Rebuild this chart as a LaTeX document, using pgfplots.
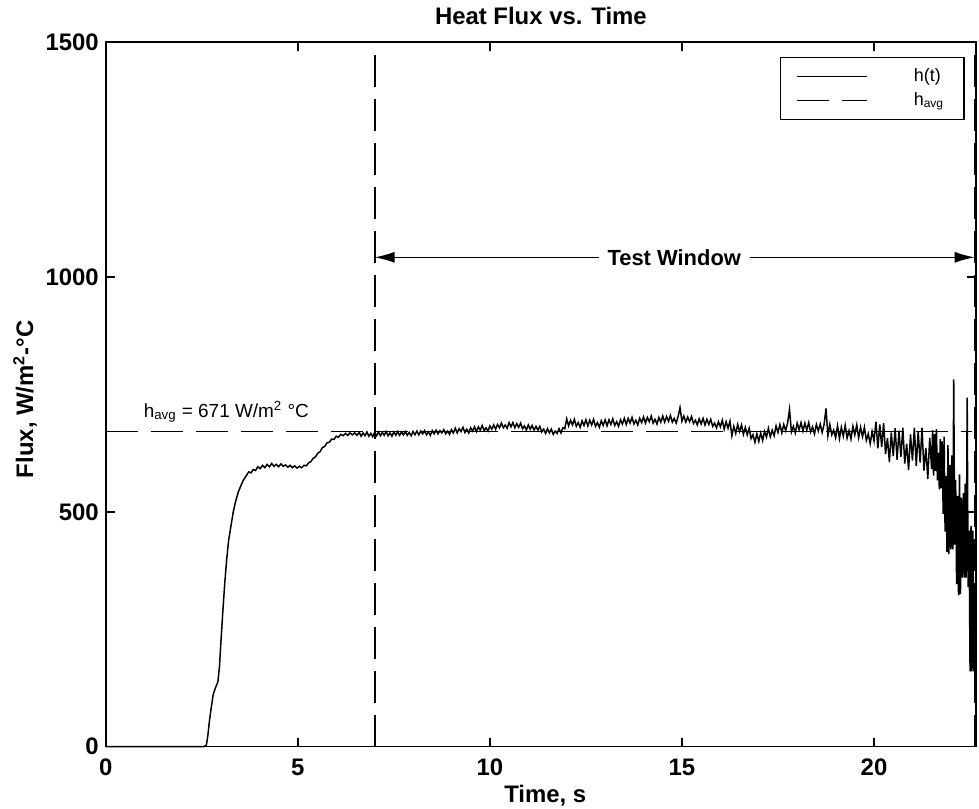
\documentclass[border=0pt]{standalone}
\usepackage{fontspec}
\setmainfont{Liberation Sans}
\usepackage{pgfplots}
\pgfplotsset{compat=1.18}
\usetikzlibrary{arrows.meta}

\newcommand{\twelvebf}{\fontsize{12}{14}\selectfont\bfseries}

\begin{document}
\begin{tikzpicture}
\begin{axis}[
    scale only axis,
    width=435.15bp, height=352.2bp,
    xmin=0, xmax=22.655,
    ymin=0, ymax=1500,
    xtick={0,5,10,15,20},
    ytick={0,500,1000,1500},
    tick align=inside,
    major tick length=4.5bp,
    tick style={line width=0.8bp, black},
    axis line style={line width=0.8bp},
    /pgf/number format/assume math mode=true,
    /pgf/number format/1000 sep={},
    tick label style={font=\twelvebf},
    xticklabel style={anchor=base, yshift=-14.2bp},
    title={Heat Flux vs. Time},
    every axis title shift=0pt,
    title style={font=\twelvebf, at={(axis description cs:0.5,1)}, anchor=base, yshift=8.9bp},
    xlabel={Time, s},
    xlabel style={font=\twelvebf, at={(axis description cs:0.505,0)}, anchor=base, yshift=-28bp},
    ylabel={Flux, W/m\textsuperscript{2}-°C},
    ylabel style={font=\twelvebf, at={(axis description cs:-0.0835,0.493)}, anchor=base},
    clip=false,
    legend cell align=left,
    legend style={at={(0.987,0.979)}, anchor=north east, draw=black, line width=0.6bp,
        fill=white, font=\fontsize{9}{11}\selectfont,
        inner xsep=8bp, inner ysep=3.5bp, row sep=0bp, column sep=21bp},
    legend image code/.code={\draw[#1] (0bp,0bp) -- (35bp,0bp);},
]

% h(t) measured curve
\addplot[black, line width=0.75bp] coordinates {
    (0,0) (2.55,0) (2.62,3) (2.66,25) (2.70,55) (2.75,85) (2.80,112) (2.86,126)
    (2.92,138) (2.96,170) (3.00,225) (3.05,290) (3.10,350) (3.15,400) (3.20,440)
    (3.26,470) (3.32,500) (3.38,522) (3.45,542) (3.52,556) (3.58,567) (3.66,577)
    (3.72,585) (3.78,583) (3.84,590) (3.90,588) (3.96,596) (4.02,592) (4.08,599)
    (4.14,594) (4.20,601) (4.26,596) (4.32,603) (4.38,597) (4.44,601) (4.50,596)
    (4.56,602) (4.62,597) (4.68,600) (4.74,595) (4.80,599) (4.86,594) (4.92,598)
    (4.98,593) (5.04,597) (5.10,594) (5.16,599) (5.22,598) (5.28,604) (5.34,607)
    (5.40,614) (5.46,617) (5.52,625) (5.58,628) (5.64,637) (5.70,639) (5.76,647)
    (5.82,648) (5.88,655) (5.94,654) (6.00,661) (6.06,659) (6.12,665) (6.18,662)
    (6.24,667) (6.30,663) (6.36,668) (6.42,664) (6.48,668) (6.54,663)
    (6.60,669) (6.65,661) (6.70,668) (6.75,662) (6.80,670) (6.85,661) (6.90,667) (6.95,660)
    (7.00,669) (7.05,662) (7.10,670) (7.15,662) (7.20,669) (7.25,663) (7.30,671) (7.35,662)
    (7.40,668) (7.45,661) (7.50,670) (7.55,663) (7.60,671) (7.65,663) (7.70,670) (7.75,664)
    (7.80,671) (7.85,663) (7.90,669) (7.95,662) (8.00,671) (8.05,664) (8.10,672) (8.15,664)
    (8.20,672) (8.25,666) (8.30,673) (8.35,664) (8.40,670) (8.45,663) (8.50,673) (8.55,666)
    (8.60,674) (8.65,666) (8.70,673) (8.75,668) (8.80,675) (8.85,666) (8.90,672) (8.95,665)
    (9.00,675) (9.05,668) (9.10,678) (9.15,668) (9.20,677) (9.25,671) (9.30,680) (9.35,669)
    (9.40,676) (9.45,668) (9.50,679) (9.55,672) (9.60,681) (9.65,671) (9.70,681) (9.75,674)
    (9.80,684) (9.85,673) (9.90,679) (9.95,672) (10.00,683) (10.05,676) (10.10,685) (10.15,676)
    (10.20,686) (10.25,679) (10.30,689) (10.35,679) (10.40,685) (10.45,678) (10.50,690) (10.55,681)
    (10.60,690) (10.65,679) (10.70,688) (10.75,680) (10.80,689) (10.85,677) (10.90,683) (10.95,674)
    (11.00,685) (11.05,676) (11.10,684) (11.15,674) (11.20,682) (11.25,674) (11.30,682) (11.35,670)
    (11.40,676) (11.45,667) (11.50,677) (11.55,668) (11.60,676) (11.65,665) (11.70,672) (11.75,667)
    (11.80,677) (11.85,668) (11.90,679) (11.95,677) (12.00,698) (12.05,683) (12.10,695) (12.15,685)
    (12.20,697) (12.25,682) (12.30,690) (12.35,680) (12.40,694) (12.45,684) (12.50,696) (12.55,683)
    (12.60,695) (12.65,685) (12.70,697) (12.75,682) (12.80,690) (12.85,680) (12.90,694) (12.95,684)
    (13.00,696) (13.05,683) (13.10,696) (13.15,686) (13.20,698) (13.25,684) (13.30,692) (13.35,682)
    (13.40,696) (13.45,687) (13.50,699) (13.55,686) (13.60,699) (13.65,689) (13.70,701) (13.75,687)
    (13.80,695) (13.85,685) (13.90,699) (13.95,690) (14.00,702) (14.05,689) (14.10,701) (14.15,692)
    (14.20,704) (14.25,689) (14.30,697) (14.35,687) (14.40,701) (14.45,691) (14.50,704) (14.55,691)
    (14.60,703) (14.65,693) (14.70,705) (14.75,691) (14.80,699) (14.85,689) (14.90,703) (14.95,722)
    (15.00,693) (15.05,704) (15.10,691) (15.15,702) (15.20,692) (15.25,703) (15.30,688) (15.35,695)
    (15.40,685) (15.45,698) (15.50,687) (15.55,699) (15.60,685) (15.65,697) (15.70,686) (15.75,697)
    (15.80,682) (15.85,689) (15.90,679) (15.95,692) (16.00,681) (16.05,695) (16.10,676) (16.15,692)
    (16.20,678) (16.25,693) (16.30,662) (16.35,682) (16.40,667) (16.45,686) (16.50,671) (16.55,685)
    (16.60,665) (16.65,680) (16.70,664) (16.75,678) (16.80,656) (16.85,664) (16.90,648) (16.95,666)
    (17.00,650) (17.05,668) (17.10,652) (17.15,671) (17.20,659) (17.25,678) (17.30,660) (17.35,674)
    (17.40,662) (17.45,683) (17.50,669) (17.55,686) (17.60,668) (17.65,686) (17.70,673) (17.75,689)
    (17.80,718) (17.85,670) (17.90,682) (17.95,668) (18.00,689) (18.05,675) (18.10,690) (18.15,672)
    (18.20,689) (18.25,674) (18.30,690) (18.35,670) (18.40,681) (18.45,666) (18.50,686) (18.55,672)
    (18.60,687) (18.65,669) (18.70,686) (18.75,720) (18.80,662) (18.85,686) (18.90,664) (18.95,674)
    (19.00,658) (19.05,683) (19.10,656) (19.15,680) (19.20,661) (19.25,684) (19.30,657) (19.35,673)
    (19.40,655) (19.45,682) (19.50,664) (19.55,685) (19.60,658) (19.65,680) (19.70,660) (19.75,680)
    (19.80,652) (19.85,666) (19.90,645) (19.95,671) (20.00,651)
    (20.05,692) (20.10,635) (20.15,686) (20.20,638) (20.25,689) (20.30,623) (20.35,657) (20.40,606)
    (20.45,669) (20.50,619) (20.55,678) (20.60,611) (20.65,673) (20.70,617) (20.75,679) (20.80,603)
    (20.85,645) (20.90,589) (20.95,665) (21.00,609) (21.05,679) (21.10,598) (21.15,672) (21.20,605)
    (21.25,679) (21.30,588) (21.35,636) (21.40,570) (21.45,658) (21.50,591)
    (21.525,674) (21.550,577) (21.575,666) (21.600,587) (21.625,676) (21.650,567) (21.675,626)
    (21.700,548) (21.725,655) (21.750,550) (21.775,650) (21.800,495) (21.825,660) (21.850,458)
    (21.875,576) (21.900,414) (21.925,642) (21.950,410) (21.975,600) (22.000,420) (22.025,620)
    (22.050,420) (22.075,782) (22.100,430) (22.125,568) (22.150,346) (22.175,534) (22.200,322)
    (22.225,580) (22.250,325) (22.275,530) (22.300,360) (22.325,540) (22.350,360) (22.375,560)
    (22.400,360) (22.425,743) (22.450,340) (22.475,460) (22.500,160) (22.525,470) (22.550,160)
    (22.575,460) (22.600,160) (22.615,320) (22.630,160) (22.645,150) (22.655,5)
};
\addlegendentry{h(t)}

% average value
\addplot[black, line width=0.6bp, dash pattern=on 16bp off 6.5bp]
    coordinates {(0,671) (22.55,671)};
\addlegendentry{h\textsubscript{avg}}

% test window limits
\addplot[forget plot, black, line width=1bp, dash pattern=on 16bp off 6bp]
    coordinates {(7,0) (7,1500)};
\addplot[forget plot, black, line width=1bp, dash pattern=on 16bp off 6bp]
    coordinates {(22.62,0) (22.62,1500)};

\draw[line width=0.7bp, {Latex[length=10bp,width=5.5bp]}-{Latex[length=10bp,width=5.5bp]}]
    (axis cs:7,1042) -- (axis cs:22.62,1042);
\node[fill=white, inner xsep=4.5bp, inner ysep=1bp, font=\fontsize{11}{13}\selectfont\bfseries]
    at (axis cs:14.8,1042) {Test Window};

\node[anchor=base west, inner sep=0pt, font=\fontsize{9.5}{11}\selectfont]
    at (axis cs:0.98,700) {h\textsubscript{avg} = 671 W/m\textsuperscript{2} °C};

\coordinate (bbsw) at (axis description cs:-0.1215,-0.0884);
\coordinate (bbne) at (axis description cs:1.00345,1.0600);
\end{axis}
\pgfresetboundingbox
\path[use as bounding box] (bbsw) rectangle (bbne);
\end{tikzpicture}
\end{document}
